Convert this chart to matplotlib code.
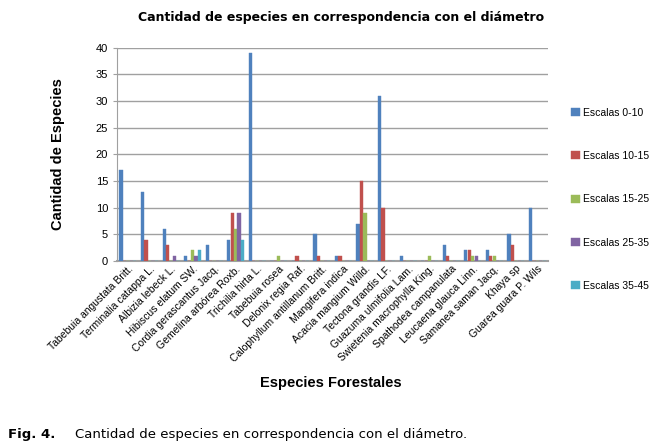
import numpy as np
import matplotlib
matplotlib.use("Agg")
import matplotlib.pyplot as plt

especies = ["Tabebuia angustata Britt.", "Terminalia catappa L.", "Albizia lebeck L.",
            "Hibiscus elatum SW.", "Cordia gerascantus Jacq.", "Gemelina arbórea Roxb.",
            "Trichilia hirta L.", "Tabebuia rosea", "Delonix regia Raf.",
            "Calophyllum antillanum Britt.", "Mangifera indica", "Acacia mangium Willd.",
            "Tectona grandis LF.", "Guazuma ulmifolia Lam.", "Swietenia macrophylla King.",
            "Spathodea campanulata", "Leucaena glauca Linn.", "Samanea saman Jacq.",
            "Khaya sp", "Guarea guara P. Wils"]

esc_0_10  = [17, 13, 6, 1, 3, 4, 39, 0, 0, 5, 1, 7, 31, 1, 0, 3, 2, 2, 5, 10]
esc_10_15 = [0, 4, 3, 0, 0, 9, 0, 0, 1, 1, 1, 15, 10, 0, 0, 1, 2, 1, 3, 0]
esc_15_25 = [0, 0, 0, 2, 0, 6, 0, 1, 0, 0, 0, 9, 0, 0, 1, 0, 1, 1, 0, 0]
esc_25_35 = [0, 0, 1, 1, 0, 9, 0, 0, 0, 0, 0, 0, 0, 0, 0, 0, 1, 0, 0, 0]
esc_35_45 = [0, 0, 0, 2, 0, 4, 0, 0, 0, 0, 0, 0, 0, 0, 0, 0, 0, 0, 0, 0]

series = [esc_0_10, esc_10_15, esc_15_25, esc_25_35, esc_35_45]
nombres = ["Escalas 0-10", "Escalas 10-15", "Escalas 15-25", "Escalas 25-35", "Escalas 35-45"]
colores = ["#4F81BD", "#C0504D", "#9BBB59", "#8064A2", "#4BACC6"]

fig = plt.figure(figsize=(6.62, 4.47), dpi=100)
ax = fig.add_axes([0.177, 0.416, 0.651, 0.477])

x = np.arange(len(especies))
w = 0.16
for i, (vals, nom, col) in enumerate(zip(series, nombres, colores)):
    ax.bar(x - 0.32 + i * w, vals, width=w * 0.95, color=col, label=nom,
           edgecolor=col, linewidth=0.3, zorder=3)

ax.set_xlim(-0.5, len(especies) - 0.5)
ax.set_ylim(0, 40)
ax.set_yticks(range(0, 41, 5))
ax.yaxis.grid(True, color="#a0a0a0", linewidth=1, zorder=0)
for s in ["top", "right"]:
    ax.spines[s].set_visible(False)
ax.spines["left"].set_color("#a0a0a0")
ax.spines["bottom"].set_color("#a0a0a0")
ax.spines["bottom"].set_linewidth(1.5)
ax.tick_params(axis="y", labelsize=8, length=3, color="#a0a0a0")
ax.tick_params(axis="x", length=0, pad=2)
ax.set_xticks(x)
ax.set_xticklabels(especies, rotation=45, ha="right", rotation_mode="anchor",
                   fontsize=7.5, family="Liberation Sans")
for t in ax.get_yticklabels():
    t.set_family("Liberation Sans")

ax.set_ylabel("Cantidad de Especies", fontsize=10.5, fontweight="bold",
              family="Liberation Sans")
ax.yaxis.set_label_coords(-0.121, 0.5)
fig.text(0.515, 0.96, "Cantidad de especies en correspondencia con el diámetro",
         ha="center", va="center", fontsize=9, fontweight="bold")
fig.text(0.5, 0.143, "Especies Forestales", ha="center", va="center",
         fontsize=10.5, fontweight="bold", family="Liberation Sans")

fig.legend(loc="upper left", bbox_to_anchor=(0.849, 0.78), frameon=False,
           prop={"family": "Liberation Sans", "size": 7.5},
           handlelength=0.8, handleheight=0.8, handletextpad=0.3, labelspacing=3.2)

fig.text(0.012, 0.027, "Fig. 4.", fontsize=9.5, fontweight="bold", va="center")
fig.text(0.113, 0.027, "Cantidad de especies en correspondencia con el diámetro.",
         fontsize=9.5, va="center")

fig.savefig("out.png", dpi=100)
